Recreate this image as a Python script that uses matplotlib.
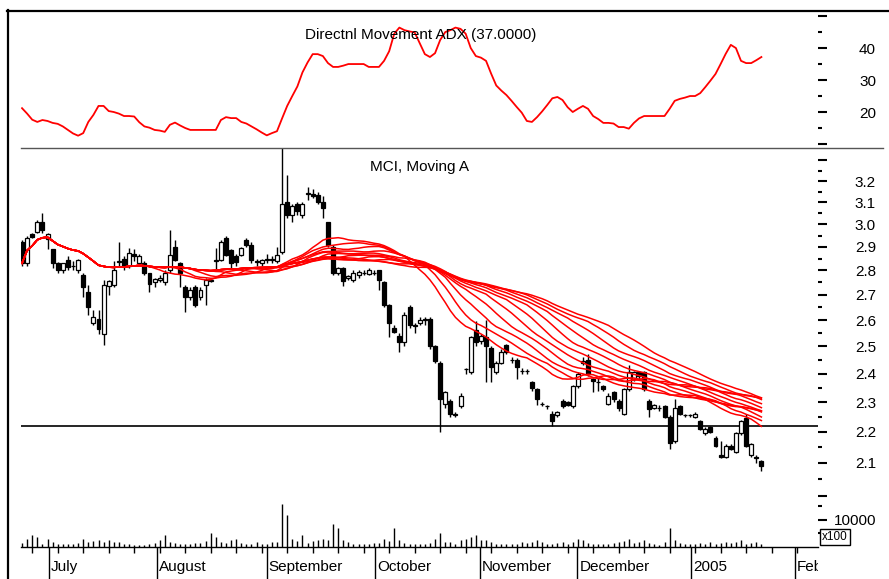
import matplotlib
matplotlib.use("Agg")
import matplotlib.pyplot as plt
from matplotlib.lines import Line2D
from matplotlib.ticker import FixedLocator, NullFormatter, NullLocator
import matplotlib.transforms as mtransforms
import numpy as np
import pandas as pd

plt.rcParams["font.family"] = ["Liberation Sans", "DejaVu Sans"]

# daily bars, late June 2004 .. January 2005
opens = [2.92, 2.83, 2.955, 2.965, 3.01, 2.935, 2.89, 2.83, 2.80, 2.845,
         2.82, 2.80, 2.78, 2.71, 2.59, 2.605, 2.545, 2.735, 2.74, 2.835,
         2.85, 2.82, 2.87, 2.83, 2.83, 2.79, 2.75, 2.76, 2.75, 2.80,
         2.90, 2.83, 2.73, 2.69, 2.73, 2.69, 2.74, 2.76, 2.84, 2.845,
         2.94, 2.885, 2.86, 2.865, 2.93, 2.91, 2.84, 2.83, 2.85, 2.845,
         2.84, 2.88, 3.10, 3.04, 3.09, 3.04, 3.14, 3.14, 3.135, 3.10,
         3.01, 2.90, 2.79, 2.81, 2.77, 2.76, 2.78, 2.79, 2.785, 2.79,
         2.80, 2.75, 2.66, 2.57, 2.54, 2.515, 2.65, 2.58, 2.59, 2.60,
         2.605, 2.50, 2.44, 2.295, 2.305, 2.26, 2.285, 2.415, 2.405, 2.56,
         2.52, 2.535, 2.495, 2.405, 2.44, 2.505, 2.45, 2.45, 2.41, 2.41,
         2.37, 2.345, 2.295, 2.285, 2.26, 2.255, 2.305, 2.30, 2.285, 2.355,
         2.44, 2.45, 2.38, 2.37, 2.355, 2.295, 2.335, 2.305, 2.26, 2.345,
         2.38, 2.405, 2.405, 2.305, 2.28, 2.28, 2.285, 2.25, 2.17, 2.285,
         2.255, 2.255, 2.25, 2.235, 2.195, 2.215, 2.18, 2.125, 2.12, 2.155,
         2.135, 2.195, 2.245, 2.125, 2.12, 2.105]
highs = [2.93, 2.95, 2.96, 3.02, 3.05, 2.96, 2.89, 2.835, 2.83, 2.86,
         2.84, 2.85, 2.79, 2.74, 2.64, 2.64, 2.76, 2.76, 2.84, 2.92,
         2.86, 2.895, 2.89, 2.87, 2.84, 2.79, 2.77, 2.78, 2.80, 2.975,
         2.93, 2.835, 2.74, 2.73, 2.74, 2.73, 2.77, 2.77, 2.895, 2.93,
         2.95, 2.89, 2.87, 2.90, 2.94, 2.92, 2.85, 2.85, 2.87, 2.86,
         2.90, 3.36, 3.23, 3.09, 3.10, 3.10, 3.17, 3.16, 3.15, 3.13,
         3.01, 2.91, 2.815, 2.815, 2.78, 2.80, 2.80, 2.80, 2.81, 2.80,
         2.80, 2.755, 2.665, 2.58, 2.55, 2.63, 2.66, 2.59, 2.61, 2.61,
         2.61, 2.505, 2.445, 2.34, 2.31, 2.265, 2.33, 2.42, 2.54, 2.595,
         2.545, 2.60, 2.50, 2.445, 2.49, 2.51, 2.46, 2.455, 2.42, 2.415,
         2.375, 2.35, 2.30, 2.29, 2.27, 2.27, 2.31, 2.305, 2.36, 2.405,
         2.46, 2.47, 2.385, 2.385, 2.36, 2.33, 2.34, 2.31, 2.35, 2.43,
         2.41, 2.41, 2.41, 2.31, 2.295, 2.29, 2.29, 2.255, 2.31, 2.29,
         2.26, 2.26, 2.265, 2.24, 2.215, 2.22, 2.185, 2.17, 2.16, 2.16,
         2.20, 2.24, 2.26, 2.165, 2.125, 2.11]
lows = [2.82, 2.82, 2.94, 2.96, 2.96, 2.89, 2.81, 2.79, 2.79, 2.80,
        2.80, 2.79, 2.69, 2.62, 2.58, 2.545, 2.505, 2.70, 2.73, 2.82,
        2.80, 2.81, 2.84, 2.82, 2.78, 2.71, 2.73, 2.75, 2.74, 2.79,
        2.84, 2.73, 2.63, 2.68, 2.65, 2.68, 2.66, 2.75, 2.80, 2.84,
        2.86, 2.81, 2.82, 2.86, 2.90, 2.83, 2.82, 2.82, 2.83, 2.83,
        2.83, 2.87, 3.03, 3.01, 3.04, 3.03, 3.11, 3.12, 3.09, 3.03,
        2.90, 2.78, 2.78, 2.735, 2.76, 2.75, 2.77, 2.78, 2.78, 2.78,
        2.72, 2.65, 2.535, 2.55, 2.48, 2.50, 2.57, 2.55, 2.58, 2.58,
        2.49, 2.44, 2.20, 2.28, 2.25, 2.25, 2.28, 2.40, 2.40, 2.50,
        2.51, 2.37, 2.37, 2.40, 2.435, 2.47, 2.44, 2.38, 2.40, 2.40,
        2.34, 2.29, 2.285, 2.275, 2.22, 2.25, 2.28, 2.285, 2.28, 2.35,
        2.43, 2.39, 2.335, 2.34, 2.34, 2.29, 2.30, 2.27, 2.255, 2.34,
        2.375, 2.38, 2.34, 2.25, 2.275, 2.27, 2.245, 2.145, 2.165, 2.255,
        2.25, 2.25, 2.245, 2.205, 2.19, 2.195, 2.15, 2.115, 2.115, 2.14,
        2.13, 2.19, 2.15, 2.12, 2.10, 2.075]
closes = [2.83, 2.94, 2.945, 3.01, 2.975, 2.955, 2.83, 2.80, 2.83, 2.815,
          2.82, 2.845, 2.73, 2.65, 2.61, 2.565, 2.74, 2.755, 2.80, 2.84,
          2.82, 2.875, 2.86, 2.86, 2.79, 2.745, 2.765, 2.77, 2.79, 2.865,
          2.845, 2.79, 2.69, 2.72, 2.66, 2.72, 2.76, 2.755, 2.845, 2.92,
          2.865, 2.83, 2.835, 2.895, 2.91, 2.845, 2.835, 2.845, 2.845, 2.85,
          2.865, 3.09, 3.04, 3.085, 3.06, 3.09, 3.145, 3.13, 3.10, 3.075,
          2.91, 2.79, 2.81, 2.755, 2.775, 2.79, 2.795, 2.79, 2.80, 2.79,
          2.76, 2.66, 2.59, 2.555, 2.515, 2.62, 2.58, 2.575, 2.60, 2.605,
          2.50, 2.445, 2.31, 2.335, 2.26, 2.255, 2.32, 2.415, 2.535, 2.515,
          2.54, 2.50, 2.425, 2.44, 2.48, 2.48, 2.45, 2.425, 2.41, 2.41,
          2.35, 2.31, 2.295, 2.285, 2.235, 2.265, 2.285, 2.29, 2.355, 2.40,
          2.445, 2.40, 2.375, 2.37, 2.345, 2.32, 2.31, 2.28, 2.345, 2.405,
          2.405, 2.39, 2.345, 2.275, 2.29, 2.28, 2.25, 2.165, 2.28, 2.26,
          2.255, 2.255, 2.26, 2.21, 2.21, 2.20, 2.155, 2.12, 2.155, 2.145,
          2.195, 2.235, 2.155, 2.16, 2.115, 2.09]
# volume in hundreds of shares
volume = [1600, 3100, 4400, 3700, 1200, 3100, 1900, 1000, 1000,
          1000, 1200, 1500, 3100, 1900, 2200, 2700, 1900, 2500, 1900,
          1900, 1200, 1200, 600, 600, 600, 1000, 1500, 2500, 4400,
          1900, 1500, 1200, 1000, 1000, 1500, 1500, 2200, 5000, 3700,
          1900, 1500, 2500, 3100, 1500, 1200, 1000, 1900, 1200, 1200,
          1900, 1900, 16000, 11900, 3100, 2200, 4400, 1500, 2200, 2500,
          3100, 2500, 8700, 6900, 2500, 1900, 1000, 1200, 1000, 1200,
          1500, 1500, 3100, 2200, 6900, 2500, 1500, 1200, 1200, 1000,
          1200, 1500, 3100, 5000,
          1900, 1900, 1200, 2500, 3100, 3700, 4400, 2500,
          2500, 1900, 1000, 1200, 1000, 1200, 1000, 1900, 1500, 1900,
          2500, 1900, 1200, 1200, 1500, 1900, 1200, 1900, 3100, 2500,
          1500, 1000, 1000, 1000, 1200, 1500, 1900, 2200, 3100, 1500,
          1900, 2500, 1500, 1000, 600, 1900, 6900, 2500, 1500, 1200,
          1000, 1200, 1500, 1200, 1900, 1200, 1500, 1900, 1500, 1900,
          2500, 1200, 1500, 1900, 1000]
adx = [21.2, 19.5, 17.6, 16.9, 17.5, 17.2, 16.6, 16.3, 15.5, 14.4,
       13.3, 12.6, 13.4, 16.9, 19.1, 21.9, 21.9, 20.3, 20.0, 19.5,
       18.75, 18.75, 18.6, 16.8, 15.5, 15.1, 14.4, 14.2, 13.8, 16.0,
       16.7, 15.8, 15.0, 14.4, 14.4, 14.4, 14.4, 14.4, 14.4, 17.5,
       18.4, 18.1, 18.1, 16.9, 16.4, 15.5, 14.6, 13.6, 12.7, 13.4,
       14.0, 18.0, 21.9, 25.0, 28.0, 32.4, 35.5, 38.1, 38.1, 37.5,
       35.3, 34.1, 34.1, 34.5, 35.0, 35.0, 35.0, 35.0, 34.1, 34.1,
       34.1, 36.0, 39.0, 44.5, 46.4, 45.6, 45.2, 44.9, 41.5, 38.1,
       37.2, 38.4, 42.5, 45.0, 45.6, 46.4, 46.0, 44.5, 40.0, 37.5,
       37.0, 36.0, 32.0, 28.3, 26.7, 25.3, 23.5, 21.6, 19.8, 17.2,
       16.9, 18.4, 20.2, 22.2, 24.3, 24.7, 23.75, 21.5, 20.0, 21.0,
       21.9, 21.0, 18.75, 17.8, 16.6, 16.6, 16.4, 15.3, 15.3, 14.8,
       16.6, 18.0, 18.75, 18.75, 18.75, 18.75, 18.75, 21.0, 23.5, 24.1,
       24.5, 25.0, 25.0, 25.9, 27.8, 29.8, 31.9, 35.0, 38.2, 41.0,
       40.0, 36.0, 35.3, 35.3, 36.2, 37.2]

ma_periods = [25, 29, 33, 37, 41, 45, 49, 53, 57, 61, 65]
support_level = 2.22
month_labels = ["July", "August", "September", "October", "November",
                "December", "2005", "Feb"]
month_pos = [5.3, 26.5, 48.0, 69.2, 89.8, 108.9, 131.2, 151.6]
week_pos = list(range(2, 157, 5))

adx_major = [10, 20, 30, 40, 50]
adx_minor = [15, 25, 35, 45]
adx_labels = ["", "20", "30", "40", ""]
price_major = [2.0, 2.1, 2.2, 2.3, 2.4, 2.5, 2.6, 2.7, 2.8, 2.9, 3.0, 3.1, 3.2, 3.3]
price_minor = [2.05, 2.15, 2.25, 2.35, 2.45, 2.55, 2.65, 2.75, 2.85, 2.95,
               3.05, 3.15, 3.25]
vol_major = [10000]
vol_minor = [5000, 15000]

W, H = 889, 579
fig = plt.figure(figsize=(W / 100, H / 100), dpi=100)
fig.patch.set_facecolor("white")


def box(x0, y0, x1, y1):
    return [x0 / W, 1 - y1 / H, (x1 - x0) / W, (y1 - y0) / H]


XL, XR = 21, 818
ax_adx = fig.add_axes(box(XL, 10, XR, 148))
ax_px = fig.add_axes(box(XL, 148, XR, 500))
ax_vol = fig.add_axes(box(XL, 500, XR, 547))
ax_dt = fig.add_axes(box(XL, 547, XR, 579))

bars = np.arange(len(closes))
xlim = (-0.2, 156.1)
LABEL_PAD = 35.3  # points, puts label right edge near x=877px

for ax in (ax_adx, ax_px, ax_vol, ax_dt):
    ax.set_xlim(*xlim)
    ax.patch.set_alpha(0)
    for side in ("top", "left", "right", "bottom"):
        ax.spines[side].set_visible(False)


def right_axis(ax, major, minor, labels):
    ax.yaxis.tick_right()
    ax.yaxis.set_major_locator(FixedLocator(major))
    ax.yaxis.set_minor_locator(FixedLocator(minor))
    ax.yaxis.set_minor_formatter(NullFormatter())
    ax.set_yticklabels(labels)
    ax.tick_params(axis="y", which="major", direction="out", length=6.5,
                   width=1.5, pad=LABEL_PAD, labelsize=11, colors="black")
    ax.tick_params(axis="y", which="minor", direction="out", length=3,
                   width=1.5, colors="black")
    for t in ax.get_yticklabels():
        t.set_horizontalalignment("right")
    ax.xaxis.set_major_locator(NullLocator())
    ax.xaxis.set_minor_locator(NullLocator())


# ADX panel
ax_adx.plot(bars, adx, color="#ff0000", lw=1.3)
ax_adx.set_ylim(8.75, 51.9)
right_axis(ax_adx, adx_major, adx_minor, adx_labels)

# price panel
o = np.array(opens)
c = np.array(closes)
up = c >= o
ax_px.set_yscale("log")
ax_px.axhline(support_level, color="black", lw=1.2, zorder=1)
ax_px.vlines(bars, lows, highs, color="black", lw=1, zorder=2)
ax_px.bar(bars, np.abs(c - o), bottom=np.minimum(o, c), width=0.78,
          color=np.where(up, "white", "black"), edgecolor="black",
          linewidth=0.9, zorder=3)
close_s = pd.Series(closes)
for p in ma_periods:
    ax_px.plot(bars, close_s.rolling(p, min_periods=1).mean(),
               color="#ff0000", lw=1.1, zorder=4)
ax_px.set_ylim(1.987, 3.362)
right_axis(ax_px, price_major, price_minor,
           [""] + [f"{v:.1f}" for v in price_major[1:-1]] + [""])

# volume panel
ax_vol.vlines(bars, 0, volume, color="black", lw=1)
ax_vol.set_ylim(0, 17400)
right_axis(ax_vol, vol_major, vol_minor, ["10000"])
ax_vol.spines["bottom"].set_visible(True)
ax_vol.spines["bottom"].set_linewidth(1)
ax_vol.xaxis.set_major_locator(FixedLocator(month_pos))
ax_vol.xaxis.set_minor_locator(FixedLocator(week_pos))
ax_vol.tick_params(axis="x", which="major", direction="out", length=23,
                   width=1, labelbottom=False, colors="black")
ax_vol.tick_params(axis="x", which="minor", direction="out", length=4.3,
                   width=1, colors="black")

# month names below the time axis, clipped at the right edge
ax_dt.set_ylim(0, 1)
ax_dt.set_xticks([])
ax_dt.set_yticks([])
trans = mtransforms.blended_transform_factory(ax_dt.transData, ax_dt.transAxes)
for pos, lab in zip(month_pos, month_labels):
    ax_dt.text(pos + 0.4, 0.375, lab, transform=trans, ha="left", va="center",
               fontsize=11, clip_on=True)

# titles
fig.text(421 / W, 1 - 35 / H, "Directnl Movement ADX (37.0000)",
         ha="center", va="center", fontsize=11)
fig.text(420 / W, 1 - 167 / H, "MCI, Moving A", ha="center", va="center",
         fontsize=11)
fig.text(835 / W, 1 - 537 / H, "x100", ha="center", va="center", fontsize=8.5,
         zorder=5,
         bbox=dict(boxstyle="square,pad=0.2", fc="white", ec="black", lw=1))

# frame lines
fig.add_artist(Line2D([7 / W, 1], [1 - 11 / H] * 2, color="black", lw=1.6))
fig.add_artist(Line2D([7.5 / W] * 2, [0, 1 - 10 / H], color="black", lw=1.6))
fig.add_artist(Line2D([21 / W, 883 / W], [1 - 148 / H] * 2, color="#555555",
                      lw=1))

fig.savefig("out.png", dpi=100, facecolor="white")
